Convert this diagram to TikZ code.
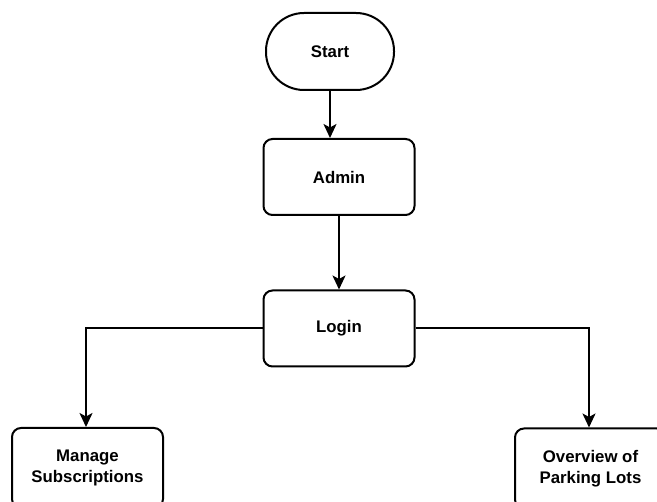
\documentclass[tikz,border=0pt]{standalone}
\usepackage{fontspec}
\setmainfont{Liberation Sans}
\usetikzlibrary{arrows.meta}
\begin{document}
\begin{tikzpicture}[x=1pt,y=-1pt,
  box/.style={draw=black, line width=2pt, fill=white, rounded corners=9pt,
    minimum width=151pt, minimum height=76pt, inner sep=0pt,
    align=center, font=\bfseries\fontsize{16.8}{21.5}\selectfont},
  term/.style={box, rounded corners=38pt, minimum width=128pt, minimum height=77pt},
  arr/.style={line width=2pt, -{Stealth[length=14pt,width=13pt,inset=3.5pt]}}]
\useasboundingbox (0,0) rectangle (657,502);
\fill[white] (0,0) rectangle (657,502);
\begin{scope}
\clip (0,0) rectangle (657,502);
\node[term] (start) at (330,51.5) {Start};
\node[box] (admin) at (339,177) {Admin};
\node[box] (login) at (339,328.5) {Login};
\node[box, minimum height=80pt] (manage) at (87.5,468) {Manage\\Subscriptions};
\node[box, minimum height=80pt] (overview) at (590.5,468.5) {Overview of\\Parking Lots};
\draw[arr] (start.south) -- (start.south |- admin.north);
\draw[arr] (admin.south) -- (login.north);
\draw[arr] (login.west) -| ([xshift=-1.5pt]manage.north);
\draw[arr] (login.east) -| ([xshift=-1.5pt]overview.north);
\end{scope}
\end{tikzpicture}
\end{document}
